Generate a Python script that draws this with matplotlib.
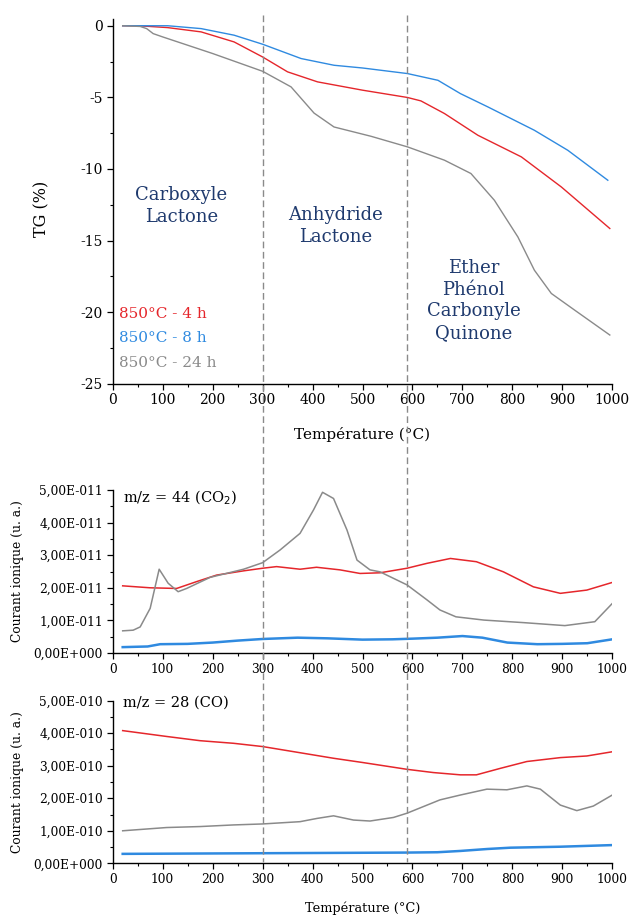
import matplotlib
matplotlib.use("Agg")
import matplotlib.pyplot as plt
from matplotlib.lines import Line2D
from matplotlib.ticker import MultipleLocator, FuncFormatter

plt.rcParams["font.family"] = ["DejaVu Serif"]
plt.rcParams["axes.unicode_minus"] = False

# ------------------------------------------------------------
# Data
# ------------------------------------------------------------

# TG (%) vs temperature
tg_t_4h = [20, 60, 110, 177, 243, 300, 350, 410, 500, 590, 617, 664, 731, 818, 898, 995]
tg_4h = [0, -0.02, -0.13, -0.43, -1.13, -2.18, -3.22, -3.92, -4.5, -5.01, -5.25, -6.13,
         -7.65, -9.16, -11.26, -14.16]

tg_t_8h = [20, 60, 110, 177, 243, 300, 377, 443, 500, 590, 651, 696, 751, 844, 911, 991]
tg_8h = [0, 0, 0, -0.2, -0.66, -1.29, -2.29, -2.76, -2.95, -3.34, -3.81, -4.74, -5.67,
         -7.3, -8.7, -10.79]

tg_t_24h = [20, 55, 68, 81, 100, 200, 300, 357, 403, 443, 517, 590, 664, 717, 764, 811,
            844, 878, 925, 995]
tg_24h = [0, -0.05, -0.2, -0.55, -0.78, -1.94, -3.18, -4.27, -6.1, -7.07, -7.72, -8.46,
          -9.39, -10.32, -12.19, -14.75, -17.07, -18.7, -19.87, -21.6]

# m/z = 44 (CO2), units of 1e-11
co2_t_4h = [20, 75, 128, 168, 208, 262, 300, 328, 375, 408, 455, 495, 535, 589, 629, 676,
            728, 782, 842, 896, 949, 999]
co2_4h = [2.06, 2.0, 1.98, 2.19, 2.39, 2.52, 2.6, 2.65, 2.57, 2.63, 2.55, 2.44, 2.46, 2.6,
          2.75, 2.9, 2.8, 2.49, 2.03, 1.83, 1.93, 2.16]

co2_t_8h = [20, 70, 95, 150, 200, 250, 300, 370, 430, 500, 560, 600, 650, 700, 740, 790,
            850, 900, 950, 1000]
co2_8h = [0.18, 0.2, 0.27, 0.28, 0.32, 0.38, 0.43, 0.47, 0.45, 0.41, 0.42, 0.44, 0.47, 0.52,
          0.47, 0.32, 0.27, 0.28, 0.3, 0.42]

co2_t_24h = [20, 41, 55, 75, 93, 111, 131, 148, 195, 262, 300, 335, 375, 402, 420, 442, 469,
             489, 515, 535, 589, 629, 655, 687, 743, 824, 905, 965, 1000]
co2_24h = [0.68, 0.7, 0.8, 1.37, 2.57, 2.14, 1.88, 1.98, 2.32, 2.57, 2.77, 3.16, 3.67, 4.39,
           4.93, 4.74, 3.77, 2.85, 2.55, 2.49, 2.09, 1.63, 1.32, 1.11, 1.01, 0.93, 0.84,
           0.96, 1.52]

# m/z = 28 (CO), units of 1e-10
co_t_4h = [20, 108, 175, 242, 300, 375, 442, 500, 589, 642, 696, 728, 776, 829, 896, 949, 1000]
co_4h = [4.08, 3.9, 3.77, 3.69, 3.59, 3.4, 3.23, 3.1, 2.89, 2.79, 2.72, 2.72, 2.92, 3.13,
         3.25, 3.3, 3.43]

co_t_8h = [20, 300, 589, 650, 696, 750, 796, 896, 1000]
co_8h = [0.29, 0.31, 0.33, 0.34, 0.38, 0.44, 0.48, 0.51, 0.56]

co_t_24h = [20, 108, 175, 242, 300, 375, 409, 442, 482, 515, 562, 589, 655, 696, 749, 789,
            829, 856, 896, 929, 962, 1000]
co_24h = [1.0, 1.1, 1.13, 1.18, 1.21, 1.28, 1.38, 1.46, 1.33, 1.3, 1.41, 1.54, 1.95, 2.1,
          2.28, 2.26, 2.38, 2.28, 1.79, 1.62, 1.76, 2.1]

series_labels = ["850°C - 4 h", "850°C - 8 h", "850°C - 24 h"]
boundaries = [300, 590]

RED = "#e5262b"
BLUE = "#2f8ae0"
GRAY = "#8a8a8a"
NAVY = "#1f3a6e"
COLORS = [RED, BLUE, GRAY]

# ------------------------------------------------------------
# Helpers
# ------------------------------------------------------------

def sci_fmt(v, pos):
    if abs(v) < 1e-30:
        return "0,00E+000"
    m, e = f"{v:.2e}".split("e")
    e = int(e)
    return f"{m.replace('.', ',')}E{'-' if e < 0 else '+'}{abs(e):03d}"


def style_axes(ax, tick_size):
    for s in ("top", "right"):
        ax.spines[s].set_visible(False)
    ax.set_xlim(0, 1000)
    ax.xaxis.set_major_locator(MultipleLocator(100))
    ax.xaxis.set_minor_locator(MultipleLocator(50))
    ax.tick_params(which="major", direction="out", length=4, width=0.9,
                   labelsize=tick_size, pad=3)
    ax.tick_params(which="minor", direction="out", length=2.5, width=0.8)
    for s in ("left", "bottom"):
        ax.spines[s].set_linewidth(1.0)


# ------------------------------------------------------------
# Figure
# ------------------------------------------------------------

W, H = 629, 918
fig = plt.figure(figsize=(W / 100, H / 100), dpi=100)

LEFT = 112.7 / W
WIDTH = 499.6 / W

def ax_rect(top_px, bottom_px):
    return [LEFT, (H - bottom_px) / H, WIDTH, (bottom_px - top_px) / H]

ax1 = fig.add_axes(ax_rect(19.3, 383.7))
ax2 = fig.add_axes(ax_rect(490.0, 653.0))
ax3 = fig.add_axes(ax_rect(700.7, 863.3))

# --- top: TG ---
ax1.plot(tg_t_4h, tg_4h, color=RED, lw=1.0)
ax1.plot(tg_t_8h, tg_8h, color=BLUE, lw=1.0)
ax1.plot(tg_t_24h, tg_24h, color=GRAY, lw=1.0)
style_axes(ax1, 10)
ax1.set_ylim(-25, 0.45)
ax1.yaxis.set_major_locator(MultipleLocator(5))
ax1.yaxis.set_minor_locator(MultipleLocator(2.5))
ax1.set_ylabel("TG (%)", fontsize=11.5)
ax1.yaxis.set_label_coords(-0.1255, 0.48)
ax1.set_xlabel("Température (°C)", fontsize=11)
ax1.xaxis.set_label_coords(0.5, -0.119)

txt_kw = dict(color=NAVY, fontsize=13, ha="center", va="center", linespacing=1.25)
ax1.text(137, -12.6, "Carboxyle\nLactone", **txt_kw)
ax1.text(446, -14.0, "Anhydride\nLactone", **txt_kw)
ax1.text(723, -19.2, "Ether\nPhénol\nCarbonyle\nQuinone", **txt_kw)

for i, (lab, col) in enumerate(zip(series_labels, COLORS)):
    ax1.text(12, -20.1 - i * 1.73, lab, color=col, fontsize=11, ha="left", va="center")

# --- middle: m/z = 44 ---
ax2.plot(co2_t_4h, [v * 1e-11 for v in co2_4h], color=RED, lw=1.1)
ax2.plot(co2_t_8h, [v * 1e-11 for v in co2_8h], color=BLUE, lw=1.8)
ax2.plot(co2_t_24h, [v * 1e-11 for v in co2_24h], color=GRAY, lw=1.1)
style_axes(ax2, 8.8)
ax2.set_ylim(0, 5e-11)
ax2.yaxis.set_major_locator(MultipleLocator(1e-11))
ax2.yaxis.set_minor_locator(MultipleLocator(0.5e-11))
ax2.yaxis.set_major_formatter(FuncFormatter(sci_fmt))
ax2.set_ylabel("Courant ionique (u. a.)", fontsize=8.8)
ax2.yaxis.set_label_coords(-0.1775, 0.5)
ax2.text(20, 4.75e-11, "m/z = 44 (CO$_2$)", fontsize=10.5, ha="left", va="center")

# --- bottom: m/z = 28 ---
ax3.plot(co_t_4h, [v * 1e-10 for v in co_4h], color=RED, lw=1.1)
ax3.plot(co_t_8h, [v * 1e-10 for v in co_8h], color=BLUE, lw=1.8)
ax3.plot(co_t_24h, [v * 1e-10 for v in co_24h], color=GRAY, lw=1.1)
style_axes(ax3, 8.8)
ax3.set_ylim(0, 5e-10)
ax3.yaxis.set_major_locator(MultipleLocator(1e-10))
ax3.yaxis.set_minor_locator(MultipleLocator(0.5e-10))
ax3.yaxis.set_major_formatter(FuncFormatter(sci_fmt))
ax3.set_ylabel("Courant ionique (u. a.)", fontsize=8.8)
ax3.yaxis.set_label_coords(-0.1775, 0.5)
ax3.set_xlabel("Température (°C)", fontsize=9.3)
ax3.xaxis.set_label_coords(0.5, -0.232)
ax3.text(20, 4.95e-10, "m/z = 28 (CO)", fontsize=10.5, ha="left", va="center")

# --- dashed boundaries across all panels ---
for b in boundaries:
    xf = LEFT + WIDTH * b / 1000
    fig.add_artist(Line2D([xf, xf], [(H - 15) / H, (H - 862) / H],
                          transform=fig.transFigure, color=GRAY, lw=1.0,
                          linestyle=(0, (4.8, 2.6)), zorder=5))

fig.savefig("out.png", dpi=100)
